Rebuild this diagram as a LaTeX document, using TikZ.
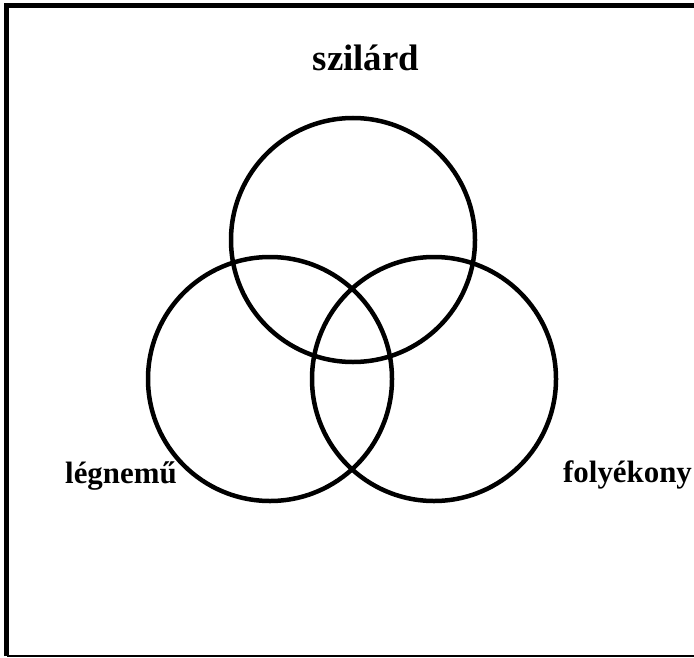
\documentclass[tikz,border=0pt]{standalone}
\usepackage{fontspec}
\setmainfont{Liberation Serif}
\usepackage{tikz}

\begin{document}
\begin{tikzpicture}[x=1bp, y=-1bp]
			\tikzset{kor/.style={circle, draw=black, line width=4.5bp, minimum size=244bp, inner sep=0pt},
				felirat/.style={font=\fontsize{31}{36}\selectfont\bfseries}}
			\useasboundingbox (0,0) rectangle (694,658);
			% keret
			\draw[line width=5bp] (6.5,656) -- (6.5,5.5) -- (694,5.5);
			\draw[line width=1.5bp] (6.5,656) -- (694,656);
			
			\node[kor] (szilard) at (353,240) {};
			\node[kor] (legnemu) at (270,379) {};
			\node[kor] (folyekony) at (434,379) {};
			
			\node[felirat, anchor=base, inner sep=0pt] (tSz) at (366,71) {\fontsize{37}{42}\selectfont szilárd};
			\node[felirat, anchor=base west, inner sep=0pt] (tLe) at (65,483) {légnemű};
			\node[felirat, anchor=base west, inner sep=0pt] (tFo) at (563,482) {folyékony};
		\end{tikzpicture}
\end{document}
